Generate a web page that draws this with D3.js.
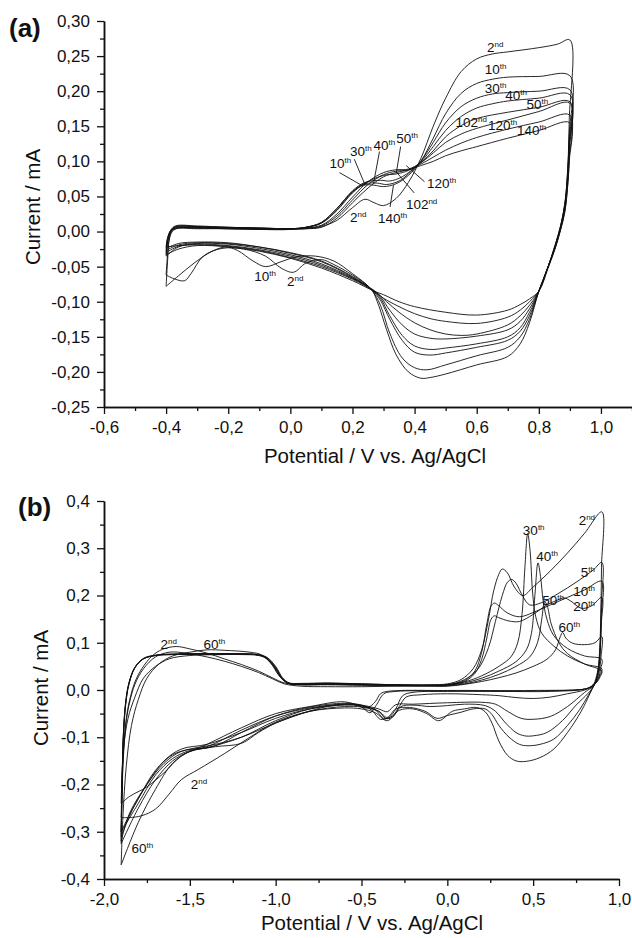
<!DOCTYPE html>
<html><head><meta charset="utf-8">
<script src="https://cdn.jsdelivr.net/npm/d3@7"></script>
<style>body{margin:0;background:#fff}svg{display:block}text{font-family:"Liberation Sans",Arial,sans-serif;fill:#111}</style>
</head><body>
<svg id="c" width="632" height="938"></svg>
<script>
// ---------- Panel (a) data: [potential V, current mA] ----------
const a02 = [[-0.4,-0.062],[-0.395,-0.03],[-0.39,-0.01],[-0.38,0.002],[-0.36,0.006],[-0.3,0.006],[-0.2,0.005],[-0.1,0.004],[0.0,0.004],[0.05,0.004],[0.1,0.007],[0.15,0.016],[0.2,0.034],[0.24,0.046],[0.27,0.041],[0.3,0.037],[0.34,0.047],[0.38,0.07],[0.42,0.104],[0.46,0.15],[0.5,0.19],[0.55,0.228],[0.6,0.246],[0.65,0.253],[0.7,0.256],[0.8,0.262],[0.86,0.267],[0.9,0.273],
 [0.898,0.16],[0.893,0.09],[0.885,0.045],[0.872,0.01],[0.855,-0.02],[0.83,-0.05],[0.8,-0.085],[0.77,-0.13],[0.74,-0.16],[0.7,-0.178],[0.6,-0.19],[0.5,-0.203],[0.45,-0.208],[0.42,-0.209],[0.38,-0.2],[0.34,-0.175],[0.31,-0.14],[0.28,-0.1],[0.26,-0.082],[0.2,-0.062],[0.14,-0.047],[0.1,-0.04],[0.05,-0.045],[0.01,-0.058],[-0.03,-0.052],[-0.08,-0.035],[-0.15,-0.025],[-0.22,-0.024],[-0.28,-0.035],[-0.32,-0.06],[-0.34,-0.07],[-0.37,-0.068],[-0.4,-0.062]];
const a10 = [[-0.4,-0.078],[-0.395,-0.04],[-0.39,-0.012],[-0.38,0.0],[-0.36,0.005],[-0.3,0.005],[-0.2,0.004],[-0.1,0.004],[0.0,0.004],[0.05,0.006],[0.1,0.012],[0.15,0.03],[0.2,0.055],[0.235,0.066],[0.27,0.066],[0.3,0.064],[0.34,0.068],[0.38,0.08],[0.42,0.1],[0.46,0.133],[0.5,0.168],[0.55,0.197],[0.6,0.211],[0.65,0.217],[0.7,0.22],[0.8,0.221],[0.9,0.222],
 [0.898,0.14],[0.892,0.08],[0.884,0.04],[0.87,0.008],[0.852,-0.02],[0.83,-0.05],[0.8,-0.085],[0.77,-0.125],[0.74,-0.15],[0.7,-0.165],[0.6,-0.177],[0.5,-0.19],[0.44,-0.197],[0.4,-0.194],[0.36,-0.18],[0.32,-0.145],[0.29,-0.105],[0.26,-0.082],[0.2,-0.06],[0.14,-0.042],[0.08,-0.035],[0.02,-0.036],[-0.03,-0.043],[-0.08,-0.05],[-0.12,-0.042],[-0.17,-0.027],[-0.21,-0.022],[-0.26,-0.03],[-0.31,-0.045],[-0.36,-0.063],[-0.4,-0.078]];
const a30 = [[-0.4,-0.027],[-0.395,-0.012],[-0.385,0.0],[-0.37,0.005],[-0.3,0.005],[-0.2,0.004],[-0.1,0.003],[0.0,0.003],[0.05,0.006],[0.1,0.013],[0.15,0.033],[0.2,0.057],[0.24,0.068],[0.28,0.069],[0.31,0.067],[0.35,0.072],[0.38,0.082],[0.42,0.1],[0.46,0.127],[0.5,0.155],[0.55,0.178],[0.6,0.19],[0.65,0.196],[0.7,0.198],[0.8,0.2],[0.9,0.202],
 [0.898,0.13],[0.892,0.075],[0.884,0.038],[0.87,0.008],[0.852,-0.02],[0.83,-0.05],[0.8,-0.085],[0.77,-0.12],[0.74,-0.142],[0.7,-0.155],[0.6,-0.165],[0.5,-0.173],[0.45,-0.176],[0.4,-0.172],[0.36,-0.155],[0.32,-0.125],[0.29,-0.098],[0.26,-0.082],[0.2,-0.064],[0.1,-0.042],[0.0,-0.03],[-0.1,-0.022],[-0.2,-0.017],[-0.3,-0.016],[-0.36,-0.019],[-0.4,-0.027]];
const a40 = [[-0.4,-0.024],[-0.395,-0.01],[-0.385,0.001],[-0.37,0.006],[-0.3,0.006],[-0.2,0.005],[-0.1,0.004],[0.0,0.004],[0.05,0.006],[0.1,0.013],[0.15,0.033],[0.2,0.058],[0.24,0.07],[0.29,0.073],[0.32,0.072],[0.36,0.078],[0.42,0.099],[0.46,0.121],[0.5,0.144],[0.55,0.164],[0.6,0.176],[0.65,0.182],[0.7,0.186],[0.8,0.19],[0.9,0.195],
 [0.898,0.125],[0.892,0.072],[0.884,0.036],[0.87,0.006],[0.852,-0.022],[0.83,-0.05],[0.8,-0.085],[0.77,-0.115],[0.74,-0.137],[0.7,-0.15],[0.6,-0.16],[0.5,-0.166],[0.45,-0.168],[0.4,-0.163],[0.36,-0.148],[0.32,-0.12],[0.29,-0.095],[0.26,-0.082],[0.2,-0.065],[0.1,-0.043],[0.0,-0.031],[-0.1,-0.022],[-0.2,-0.016],[-0.3,-0.015],[-0.36,-0.017],[-0.4,-0.024]];
const a50 = [[-0.4,-0.035],[-0.395,-0.015],[-0.385,0.0],[-0.37,0.007],[-0.3,0.007],[-0.2,0.006],[-0.1,0.005],[0.0,0.004],[0.05,0.006],[0.1,0.012],[0.15,0.031],[0.2,0.056],[0.24,0.069],[0.3,0.08],[0.34,0.082],[0.38,0.087],[0.42,0.098],[0.46,0.115],[0.5,0.135],[0.55,0.151],[0.6,0.161],[0.7,0.17],[0.8,0.177],[0.9,0.185],
 [0.898,0.12],[0.892,0.07],[0.884,0.035],[0.87,0.005],[0.852,-0.022],[0.83,-0.05],[0.8,-0.085],[0.77,-0.11],[0.74,-0.128],[0.7,-0.14],[0.6,-0.149],[0.5,-0.153],[0.45,-0.152],[0.4,-0.146],[0.36,-0.133],[0.32,-0.112],[0.29,-0.093],[0.26,-0.082],[0.2,-0.066],[0.1,-0.046],[0.0,-0.033],[-0.1,-0.024],[-0.2,-0.018],[-0.3,-0.017],[-0.36,-0.022],[-0.4,-0.035]];
const a102 = [[-0.4,-0.03],[-0.395,-0.012],[-0.385,0.002],[-0.37,0.008],[-0.3,0.008],[-0.2,0.006],[-0.1,0.005],[0.0,0.004],[0.05,0.005],[0.1,0.009],[0.15,0.025],[0.2,0.049],[0.25,0.071],[0.3,0.084],[0.34,0.088],[0.38,0.089],[0.42,0.098],[0.46,0.112],[0.5,0.127],[0.55,0.139],[0.6,0.147],[0.7,0.159],[0.8,0.171],[0.9,0.183],
 [0.898,0.115],[0.892,0.068],[0.884,0.033],[0.87,0.004],[0.852,-0.023],[0.83,-0.05],[0.8,-0.085],[0.77,-0.105],[0.74,-0.12],[0.7,-0.133],[0.6,-0.146],[0.55,-0.148],[0.5,-0.146],[0.45,-0.14],[0.4,-0.13],[0.35,-0.115],[0.31,-0.1],[0.27,-0.084],[0.2,-0.067],[0.1,-0.048],[0.0,-0.035],[-0.1,-0.026],[-0.2,-0.02],[-0.3,-0.018],[-0.36,-0.021],[-0.4,-0.03]];
const a120 = [[-0.4,-0.022],[-0.395,-0.008],[-0.385,0.002],[-0.37,0.007],[-0.3,0.007],[-0.2,0.006],[-0.1,0.005],[0.0,0.004],[0.05,0.005],[0.1,0.008],[0.15,0.022],[0.2,0.045],[0.25,0.067],[0.3,0.081],[0.34,0.086],[0.38,0.088],[0.42,0.096],[0.46,0.106],[0.5,0.116],[0.55,0.126],[0.6,0.134],[0.7,0.146],[0.8,0.156],[0.9,0.166],
 [0.898,0.105],[0.892,0.062],[0.884,0.03],[0.87,0.003],[0.852,-0.024],[0.83,-0.05],[0.8,-0.085],[0.77,-0.1],[0.74,-0.112],[0.7,-0.122],[0.6,-0.131],[0.5,-0.128],[0.45,-0.124],[0.4,-0.117],[0.35,-0.107],[0.3,-0.095],[0.27,-0.085],[0.2,-0.068],[0.1,-0.05],[0.0,-0.037],[-0.1,-0.027],[-0.2,-0.021],[-0.3,-0.019],[-0.36,-0.02],[-0.4,-0.022]];
const a140 = [[-0.4,-0.033],[-0.395,-0.014],[-0.385,0.0],[-0.37,0.004],[-0.3,0.004],[-0.2,0.004],[-0.1,0.003],[0.0,0.003],[0.05,0.004],[0.1,0.006],[0.15,0.019],[0.2,0.041],[0.25,0.062],[0.3,0.078],[0.34,0.084],[0.38,0.088],[0.42,0.094],[0.46,0.1],[0.5,0.108],[0.55,0.115],[0.6,0.121],[0.7,0.133],[0.8,0.144],[0.9,0.155],
 [0.898,0.1],[0.892,0.06],[0.884,0.028],[0.87,0.002],[0.852,-0.025],[0.83,-0.052],[0.8,-0.085],[0.77,-0.096],[0.74,-0.104],[0.7,-0.112],[0.6,-0.119],[0.5,-0.115],[0.4,-0.107],[0.35,-0.1],[0.3,-0.09],[0.27,-0.085],[0.2,-0.07],[0.1,-0.052],[0.0,-0.038],[-0.1,-0.028],[-0.2,-0.022],[-0.3,-0.02],[-0.36,-0.025],[-0.4,-0.033]];
const curvesA = [a02, a10, a30, a40, a50, a102, a120, a140];

// labels: [number, suffix, V, I]
const labelsA = [["2","nd",0.633,0.256],["10","th",0.626,0.225],["30","th",0.626,0.198],["40","th",0.692,0.188],["50","th",0.76,0.175],
 ["102","nd",0.532,0.149],["120","th",0.636,0.144],["140","th",0.73,0.137],
 ["10","th",0.126,0.09],["30","th",0.192,0.108],["40","th",0.268,0.116],["50","th",0.341,0.126],
 ["120","th",0.44,0.062],["102","nd",0.372,0.032],["140","th",0.282,0.012],["2","nd",0.192,0.013],
 ["10","th",-0.116,-0.071],["2","nd",-0.011,-0.078]];
// leader lines: [V1, I1, V2, I2]
const leadersA = [[0.158,0.084,0.233,0.065],[0.206,0.103,0.241,0.066],[0.287,0.114,0.268,0.069],[0.355,0.121,0.341,0.083],
 [0.321,0.035,0.332,0.066],[0.432,0.071,0.373,0.094],[0.399,0.055,0.341,0.085]];

// ---------- Panel (b) data ----------
const b02 = [[-1.9,-0.27],[-1.895,-0.2],[-1.885,-0.12],[-1.87,-0.06],[-1.85,-0.02],[-1.82,0.017],[-1.78,0.045],[-1.72,0.072],[-1.66,0.086],[-1.58,0.092],[-1.5,0.087],[-1.4,0.078],[-1.3,0.066],[-1.2,0.054],[-1.1,0.04],[-1.02,0.026],[-0.95,0.015],[-0.85,0.011],[-0.7,0.011],[-0.5,0.01],[-0.3,0.01],[-0.1,0.011],[0.0,0.013],[0.08,0.022],[0.15,0.045],[0.2,0.085],[0.24,0.15],[0.27,0.21],[0.3,0.245],[0.32,0.256],[0.35,0.248],[0.39,0.218],[0.44,0.2],[0.5,0.218],[0.6,0.252],[0.7,0.29],[0.8,0.332],[0.9,0.377],
 [0.898,0.26],[0.894,0.16],[0.888,0.09],[0.878,0.045],[0.86,0.018],[0.83,-0.008],[0.78,-0.045],[0.7,-0.09],[0.62,-0.125],[0.54,-0.143],[0.46,-0.151],[0.4,-0.15],[0.35,-0.138],[0.3,-0.108],[0.26,-0.07],[0.22,-0.046],[0.17,-0.037],[0.1,-0.04],[0.03,-0.045],[-0.05,-0.065],[-0.12,-0.05],[-0.2,-0.04],[-0.28,-0.043],[-0.35,-0.065],[-0.42,-0.048],[-0.5,-0.04],[-0.6,-0.038],[-0.8,-0.045],[-1.0,-0.068],[-1.15,-0.1],[-1.3,-0.135],[-1.45,-0.168],[-1.55,-0.19],[-1.62,-0.22],[-1.7,-0.252],[-1.78,-0.266],[-1.85,-0.27],[-1.9,-0.27]];
const b05 = [[-1.9,-0.3],[-1.895,-0.22],[-1.885,-0.13],[-1.87,-0.065],[-1.85,-0.025],[-1.82,0.012],[-1.77,0.045],[-1.7,0.07],[-1.62,0.08],[-1.52,0.078],[-1.4,0.07],[-1.3,0.061],[-1.2,0.05],[-1.1,0.037],[-1.02,0.024],[-0.95,0.013],[-0.85,0.008],[-0.7,0.007],[-0.5,0.007],[-0.3,0.008],[-0.1,0.009],[0.0,0.011],[0.1,0.022],[0.18,0.045],[0.24,0.09],[0.28,0.145],[0.32,0.2],[0.35,0.228],[0.375,0.234],[0.4,0.226],[0.44,0.198],[0.48,0.18],[0.55,0.185],[0.65,0.205],[0.75,0.228],[0.85,0.254],[0.9,0.27],
 [0.897,0.18],[0.892,0.11],[0.885,0.06],[0.873,0.03],[0.855,0.01],[0.82,-0.012],[0.77,-0.042],[0.7,-0.075],[0.62,-0.104],[0.54,-0.115],[0.47,-0.118],[0.42,-0.115],[0.36,-0.1],[0.3,-0.075],[0.26,-0.052],[0.22,-0.04],[0.15,-0.04],[0.08,-0.047],[0.0,-0.054],[-0.06,-0.06],[-0.13,-0.045],[-0.22,-0.037],[-0.3,-0.04],[-0.35,-0.058],[-0.4,-0.045],[-0.5,-0.036],[-0.6,-0.035],[-0.8,-0.045],[-1.0,-0.07],[-1.2,-0.1],[-1.35,-0.115],[-1.5,-0.125],[-1.6,-0.137],[-1.7,-0.17],[-1.8,-0.23],[-1.86,-0.27],[-1.9,-0.3]];
const b10 = [[-1.9,-0.31],[-1.895,-0.2],[-1.888,-0.1],[-1.875,-0.03],[-1.855,0.015],[-1.82,0.048],[-1.77,0.066],[-1.7,0.073],[-1.6,0.075],[-1.4,0.075],[-1.2,0.075],[-1.1,0.073],[-1.05,0.066],[-1.0,0.045],[-0.96,0.022],[-0.92,0.013],[-0.85,0.011],[-0.7,0.012],[-0.5,0.011],[-0.3,0.01],[-0.1,0.01],[0.0,0.011],[0.1,0.02],[0.16,0.04],[0.2,0.08],[0.23,0.14],[0.255,0.178],[0.275,0.184],[0.3,0.178],[0.35,0.163],[0.42,0.155],[0.5,0.164],[0.6,0.18],[0.7,0.196],[0.8,0.212],[0.9,0.23],
 [0.897,0.16],[0.892,0.1],[0.884,0.055],[0.872,0.028],[0.855,0.01],[0.82,-0.007],[0.75,-0.032],[0.67,-0.065],[0.58,-0.09],[0.5,-0.097],[0.45,-0.097],[0.4,-0.09],[0.34,-0.07],[0.28,-0.045],[0.22,-0.033],[0.1,-0.03],[0.0,-0.033],[-0.1,-0.035],[-0.2,-0.032],[-0.27,-0.035],[-0.32,-0.058],[-0.36,-0.06],[-0.4,-0.045],[-0.5,-0.034],[-0.6,-0.032],[-0.8,-0.04],[-1.0,-0.06],[-1.2,-0.09],[-1.4,-0.115],[-1.55,-0.125],[-1.65,-0.15],[-1.75,-0.2],[-1.83,-0.25],[-1.9,-0.31]];
const b20 = [[-1.9,-0.32],[-1.895,-0.21],[-1.888,-0.11],[-1.875,-0.035],[-1.855,0.012],[-1.82,0.047],[-1.77,0.066],[-1.7,0.073],[-1.6,0.075],[-1.4,0.076],[-1.2,0.076],[-1.1,0.074],[-1.05,0.067],[-1.0,0.046],[-0.96,0.023],[-0.92,0.014],[-0.85,0.012],[-0.7,0.013],[-0.5,0.012],[-0.3,0.011],[-0.1,0.01],[0.0,0.011],[0.1,0.018],[0.16,0.035],[0.2,0.065],[0.23,0.11],[0.255,0.15],[0.275,0.157],[0.3,0.153],[0.36,0.146],[0.42,0.145],[0.5,0.16],[0.58,0.18],[0.64,0.19],[0.68,0.195],[0.72,0.188],[0.78,0.173],[0.84,0.178],[0.9,0.196],
 [0.897,0.14],[0.892,0.09],[0.884,0.05],[0.872,0.025],[0.855,0.01],[0.8,-0.005],[0.7,-0.035],[0.6,-0.056],[0.5,-0.062],[0.43,-0.06],[0.35,-0.045],[0.28,-0.03],[0.2,-0.026],[0.0,-0.027],[-0.2,-0.03],[-0.3,-0.031],[-0.35,-0.046],[-0.4,-0.04],[-0.5,-0.032],[-0.6,-0.03],[-0.8,-0.038],[-1.0,-0.055],[-1.2,-0.085],[-1.4,-0.12],[-1.55,-0.13],[-1.65,-0.155],[-1.75,-0.2],[-1.85,-0.26],[-1.9,-0.32]];
const b30 = [[-1.9,-0.3],[-1.895,-0.2],[-1.888,-0.1],[-1.875,-0.03],[-1.855,0.014],[-1.82,0.048],[-1.77,0.067],[-1.7,0.074],[-1.6,0.076],[-1.4,0.077],[-1.2,0.076],[-1.1,0.074],[-1.05,0.068],[-1.0,0.048],[-0.96,0.024],[-0.92,0.014],[-0.85,0.013],[-0.7,0.014],[-0.5,0.013],[-0.3,0.011],[-0.1,0.01],[0.0,0.011],[0.1,0.017],[0.2,0.03],[0.3,0.05],[0.37,0.07],[0.41,0.1],[0.435,0.16],[0.452,0.26],[0.468,0.331],[0.482,0.295],[0.497,0.205],[0.515,0.155],[0.55,0.12],[0.62,0.093],[0.7,0.072],[0.8,0.055],[0.9,0.045],
 [0.89,0.032],[0.87,0.018],[0.84,0.007],[0.8,0.0],[0.7,-0.008],[0.6,-0.015],[0.5,-0.018],[0.4,-0.016],[0.3,-0.012],[0.2,-0.01],[0.0,-0.008],[-0.15,-0.01],[-0.24,-0.015],[-0.28,-0.035],[-0.32,-0.055],[-0.37,-0.06],[-0.42,-0.042],[-0.5,-0.033],[-0.6,-0.03],[-0.8,-0.04],[-1.0,-0.065],[-1.2,-0.1],[-1.4,-0.122],[-1.5,-0.128],[-1.6,-0.145],[-1.7,-0.18],[-1.8,-0.24],[-1.9,-0.3]];
const b40 = [[-1.9,-0.325],[-1.895,-0.21],[-1.888,-0.11],[-1.875,-0.035],[-1.855,0.012],[-1.82,0.047],[-1.77,0.066],[-1.7,0.073],[-1.6,0.076],[-1.4,0.077],[-1.2,0.077],[-1.1,0.075],[-1.05,0.069],[-1.0,0.05],[-0.96,0.026],[-0.92,0.015],[-0.85,0.014],[-0.7,0.015],[-0.5,0.013],[-0.3,0.011],[-0.1,0.01],[0.0,0.01],[0.1,0.015],[0.2,0.025],[0.3,0.04],[0.4,0.06],[0.46,0.085],[0.49,0.12],[0.51,0.2],[0.528,0.269],[0.543,0.24],[0.558,0.19],[0.58,0.15],[0.62,0.115],[0.7,0.088],[0.8,0.072],[0.9,0.065],
 [0.893,0.045],[0.88,0.025],[0.85,0.01],[0.8,0.002],[0.6,-0.003],[0.3,-0.003],[0.0,-0.003],[-0.2,-0.005],[-0.26,-0.012],[-0.3,-0.04],[-0.34,-0.058],[-0.39,-0.062],[-0.44,-0.043],[-0.5,-0.032],[-0.6,-0.028],[-0.8,-0.036],[-1.0,-0.055],[-1.2,-0.09],[-1.35,-0.118],[-1.5,-0.13],[-1.6,-0.15],[-1.7,-0.19],[-1.8,-0.25],[-1.9,-0.325]];
const b50 = [[-1.9,-0.24],[-1.895,-0.18],[-1.885,-0.12],[-1.86,-0.06],[-1.82,-0.015],[-1.77,0.025],[-1.7,0.05],[-1.62,0.066],[-1.5,0.073],[-1.3,0.075],[-1.15,0.076],[-1.08,0.072],[-1.03,0.058],[-0.98,0.03],[-0.93,0.015],[-0.85,0.013],[-0.7,0.014],[-0.5,0.012],[-0.3,0.01],[-0.1,0.009],[0.0,0.009],[0.1,0.013],[0.2,0.021],[0.3,0.033],[0.4,0.05],[0.48,0.07],[0.525,0.1],[0.55,0.15],[0.567,0.187],[0.582,0.178],[0.605,0.14],[0.65,0.1],[0.7,0.077],[0.8,0.055],[0.9,0.04],
 [0.89,0.028],[0.87,0.016],[0.84,0.007],[0.8,0.002],[0.5,-0.002],[0.0,-0.002],[-0.3,-0.003],[-0.37,-0.008],[-0.41,-0.03],[-0.45,-0.048],[-0.5,-0.036],[-0.6,-0.025],[-0.8,-0.035],[-1.0,-0.05],[-1.2,-0.08],[-1.4,-0.115],[-1.55,-0.14],[-1.65,-0.175],[-1.75,-0.205],[-1.85,-0.225],[-1.9,-0.24]];
const b60 = [[-1.9,-0.37],[-1.89,-0.27],[-1.87,-0.16],[-1.84,-0.075],[-1.8,-0.02],[-1.75,0.025],[-1.68,0.055],[-1.6,0.072],[-1.5,0.08],[-1.4,0.085],[-1.3,0.084],[-1.15,0.08],[-1.08,0.074],[-1.02,0.053],[-0.97,0.027],[-0.92,0.014],[-0.85,0.012],[-0.7,0.012],[-0.5,0.011],[-0.3,0.009],[-0.1,0.008],[0.0,0.008],[0.1,0.012],[0.2,0.018],[0.3,0.026],[0.4,0.036],[0.5,0.05],[0.58,0.065],[0.63,0.085],[0.658,0.113],[0.672,0.122],[0.69,0.11],[0.73,0.099],[0.8,0.096],[0.86,0.1],[0.9,0.113],
 [0.895,0.07],[0.885,0.04],[0.865,0.018],[0.83,0.006],[0.8,0.002],[0.5,-0.001],[0.0,-0.001],[-0.35,-0.003],[-0.39,-0.008],[-0.42,-0.025],[-0.47,-0.038],[-0.55,-0.03],[-0.7,-0.035],[-0.85,-0.05],[-1.0,-0.07],[-1.1,-0.09],[-1.2,-0.113],[-1.35,-0.12],[-1.5,-0.13],[-1.6,-0.155],[-1.7,-0.21],[-1.8,-0.28],[-1.9,-0.37]];
const curvesB = [b02, b05, b10, b20, b30, b40, b50, b60];
const labelsB = [["2","nd",0.765,0.35],["30","th",0.44,0.327],["40","th",0.518,0.272],["5","th",0.777,0.239],["10","th",0.734,0.199],["20","th",0.734,0.167],
 ["50","th",0.553,0.18],["60","th",0.647,0.122],["2","nd",-1.671,0.087],["60","th",-1.42,0.087],["2","nd",-1.495,-0.21],["60","th",-1.84,-0.345]];

// axis ticks
const xTicksA = [-0.6,-0.4,-0.2,0.0,0.2,0.4,0.6,0.8,1.0];
const xMinorA = [-0.5,-0.3,-0.1,0.1,0.3,0.5,0.7,0.9,1.1];
const yTicksA = [0.30,0.25,0.20,0.15,0.10,0.05,0.00,-0.05,-0.10,-0.15,-0.20,-0.25];
const yMinorA = [0.275,0.225,0.175,0.125,0.075,0.025,-0.025,-0.075,-0.125,-0.175,-0.225];
const xTicksB = [-2.0,-1.5,-1.0,-0.5,0.0,0.5,1.0];
const xMinorB = [-1.75,-1.25,-0.75,-0.25,0.25,0.75];
const yTicksB = [0.4,0.3,0.2,0.1,0.0,-0.1,-0.2,-0.3,-0.4];
const yMinorB = [0.35,0.25,0.15,0.05,-0.05,-0.15,-0.25,-0.35];

const svg = d3.select("#c");
const comma = p => d => d3.format("." + p + "f")(d).replace("\u2212","-").replace(".",",");

function drawPanel(o) {
  const x = d3.scaleLinear().domain(o.xd).range(o.xr);
  const y = d3.scaleLinear().domain(o.yd).range(o.yr);
  const g = svg.append("g");
  const line = d3.line().x(d => x(d[0])).y(d => y(d[1])).curve(d3.curveCatmullRom.alpha(0.5));
  g.selectAll("path.cv").data(o.curves).join("path").attr("class","cv")
    .attr("d", line).attr("fill","none").attr("stroke","#111").attr("stroke-width",0.9);
  if (o.leaders) g.selectAll("line.ld").data(o.leaders).join("line").attr("class","ld")
    .attr("x1",d=>x(d[0])).attr("y1",d=>y(d[1])).attr("x2",d=>x(d[2])).attr("y2",d=>y(d[3]))
    .attr("stroke","#111").attr("stroke-width",0.9);
  o.labels.forEach(l => {
    const t = g.append("text").attr("x", x(l[2])).attr("y", y(l[3])).attr("font-size", 13.5);
    t.append("tspan").text(l[0]);
    t.append("tspan").attr("dy", -5).attr("font-size", 8).text(l[1]);
  });
  const yb = o.yr[0];
  const xAx = g.append("g").attr("transform", `translate(0,${yb})`)
    .call(d3.axisBottom(x).tickValues(o.xt).tickFormat(comma(1)).tickSize(7).tickSizeOuter(0).tickPadding(7));
  const xMin = g.append("g").attr("transform", `translate(0,${yb})`)
    .call(d3.axisBottom(x).tickValues(o.xm).tickFormat("").tickSize(4).tickSizeOuter(0));
  const yAx = g.append("g").attr("transform", `translate(${o.xr[0]},0)`)
    .call(d3.axisLeft(y).tickValues(o.yt).tickFormat(comma(o.yp)).tickSize(7).tickSizeOuter(0).tickPadding(7));
  const yMin = g.append("g").attr("transform", `translate(${o.xr[0]},0)`)
    .call(d3.axisLeft(y).tickValues(o.ym).tickFormat("").tickSize(4).tickSizeOuter(0));
  [xAx,xMin,yAx,yMin].forEach(a => {
    a.select(".domain").attr("stroke","#111").attr("stroke-width",1.5);
    a.selectAll(".tick line").attr("stroke","#111").attr("stroke-width",1.3);
    a.selectAll("text").attr("font-size",17).attr("font-family","'Liberation Sans',Arial,sans-serif").attr("fill","#111");
  });
  g.append("text").attr("x", o.tx[0]).attr("y", o.tx[1]).attr("text-anchor","middle").attr("font-size",20.5).text("Potential / V vs. Ag/AgCl");
  g.append("text").attr("transform", `translate(${o.ty[0]},${o.ty[1]}) rotate(-90)`).attr("text-anchor","middle").attr("font-size",20.5).text("Current / mA");
  g.append("text").attr("x", o.tag[0]).attr("y", o.tag[1]).attr("font-size",26).attr("font-weight","bold").text(o.tagText);
}

drawPanel({xd:[-0.6,1.1], xr:[104,632], yd:[-0.25,0.30], yr:[407,21], curves:curvesA, labels:labelsA, leaders:leadersA,
  xt:xTicksA, xm:xMinorA, yt:yTicksA, ym:yMinorA, yp:2, tx:[375,463], ty:[40,207], tag:[9,37], tagText:"(a)"});
drawPanel({xd:[-2.0,1.0], xr:[104,619], yd:[-0.4,0.4], yr:[879,501], curves:curvesB, labels:labelsB,
  xt:xTicksB, xm:xMinorB, yt:yTicksB, ym:yMinorB, yp:1, tx:[372,930], ty:[48,688], tag:[18,516], tagText:"(b)"});
</script></body></html>
